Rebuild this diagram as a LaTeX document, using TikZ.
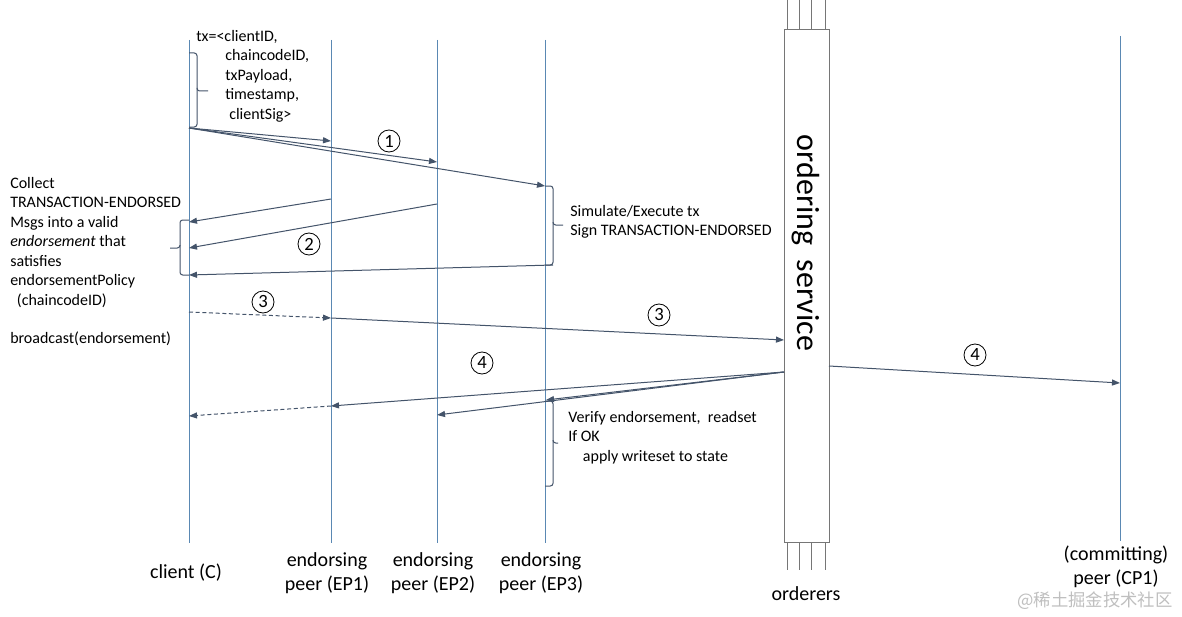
\documentclass[tikz,border=0pt]{standalone}
\usepackage{fontspec}
\setmainfont{Carlito}
\newfontfamily\cjkfont{Noto Sans CJK SC}
\usetikzlibrary{arrows.meta}
\definecolor{lifeblue}{HTML}{5A88B3}
\definecolor{arrowgray}{HTML}{44546A}
\definecolor{boxgray}{HTML}{767676}
\begin{document}
\begin{tikzpicture}[x=0.75pt,y=-0.75pt,
  life/.style={draw=lifeblue, line width=0.75pt},
  msg/.style={draw=arrowgray, line width=0.75pt, -{Triangle[length=6pt,width=4.5pt]}},
  msgdash/.style={msg, dash pattern=on 3pt off 2pt},
  brk/.style={draw=arrowgray, line width=0.75pt, rounded corners=2pt},
  num/.style={circle, draw=black, line width=0.6pt, minimum size=16.5pt, inner sep=0pt, font=\fontsize{14}{14}\selectfont},
  txt/.style={font=\fontsize{12}{14.6}\selectfont, inner sep=0pt, align=left, anchor=north west},
  lbl/.style={font=\fontsize{15}{18}\selectfont, inner sep=0pt, align=center},
  obox/.style={draw=boxgray, line width=0.75pt},
]
\useasboundingbox (0,0) rectangle (1182,617);
\fill[white] (0,0) rectangle (1182,617);

% lifelines
\coordinate (Ct) at (189,40); \coordinate (Cb) at (189,543);
\coordinate (E1t) at (331,40); \coordinate (E1b) at (331,543);
\coordinate (E2t) at (437,40); \coordinate (E2b) at (437,543);
\coordinate (E3t) at (545,40); \coordinate (E3b) at (545,543);
\coordinate (P1t) at (1120,36); \coordinate (P1b) at (1120,541);
\draw[life] (Ct) -- (Cb);
\draw[life] (E1t) -- (E1b);
\draw[life] (E2t) -- (E2b);
\draw[life] (E3t) -- (E3b);
\draw[life] (P1t) -- (P1b);

% ordering service box
\node[obox, minimum width=33.75pt, minimum height=384pt, inner sep=0pt] (ord) at (806.5,286) {};
\node[rotate=-90, font=\fontsize{24}{24}\selectfont, inner sep=0pt] (ordtxt) at (806,243) {ordering\ \ service};
\foreach \xx in {787,799,811,825} {
  \draw[obox] (\xx,0) -- (\xx,30);
  \draw[obox] (\xx,542) -- (\xx,570);
}

% bottom labels
\node[lbl] (lc) at (186,573) {client (C)};
\node[lbl] (l1) at (327,573) {endorsing\\peer (EP1)};
\node[lbl] (l2) at (433,573) {endorsing\\peer (EP2)};
\node[lbl] (l3) at (541,573) {endorsing\\peer (EP3)};
\node[lbl] (lo) at (806,594) {orderers};
\node[lbl] (lp) at (1116,567) {(committing)\\peer (CP1)};
\node[font=\cjkfont\fontsize{13}{13}\selectfont, text=black!25, inner sep=0pt] (wm) at (1095,601) {@稀土掘金技术社区};

% tx text and brace
\node[txt] (tx1) at (196,30) {tx=<clientID,};
\node[txt] (tx2) at (225,49.5) {chaincodeID,\\txPayload,\\timestamp,\\\hspace*{3pt}clientSig>};
\draw[brk] (189,53) -| (197,91) -- (208,91);
\draw[brk] (197,88) |- (189,127);

% step 1
\coordinate (s1) at (189,128);
\coordinate (a1) at (331,141);
\coordinate (a2) at (437,162);
\coordinate (a3) at (545,186);
\draw[msg] (s1) -- (a1);
\draw[msg] (s1) -- (a2);
\draw[msg] (s1) -- (a3);
\node[num] (n1) at (389,141) {1};

% EP3 brace + text
\draw[brk] (545,186) -| (553,225) -- (563,225);
\draw[brk] (553,222) |- (545,265);
\node[txt] (sim) at (570,205) {Simulate/Execute tx\\Sign TRANSACTION-ENDORSED};

% step 2
\coordinate (b1) at (331,199); \coordinate (c1) at (189,222);
\coordinate (b2) at (437,204); \coordinate (c2) at (189,248);
\coordinate (b3) at (553,265); \coordinate (c3) at (189,275);
\draw[msg] (b1) -- (c1);
\draw[msg] (b2) -- (c2);
\draw[msg] (b3) -- (c3);
\node[num] (n2) at (309,244) {2};

% client brace + text
\draw[brk] (189,220) -| (180,248) -- (170,248);
\draw[brk] (180,245) |- (189,275);
\node[txt] (coll) at (10,177) {Collect\\TRANSACTION-ENDORSED\\Msgs into a valid\\\textit{endorsement} that\\satisfies\\endorsementPolicy\\\hspace*{5pt}(chaincodeID)};
\node[txt] (bc) at (10,332) {broadcast(endorsement)};

% step 3
\coordinate (d0) at (189,312);
\coordinate (d1) at (331,318);
\coordinate (d2) at (784,340);
\draw[msgdash] (d0) -- (d1);
\draw[msg] (d1) -- (d2);
\node[num] (n3a) at (263,302) {3};
\node[num] (n3b) at (659,315) {3};

% step 4
\coordinate (o4) at (784,372);
\coordinate (e1) at (331,406);
\coordinate (e2) at (437,415);
\coordinate (e3) at (546,400);
\coordinate (e0) at (189,416);
\coordinate (o5) at (829,366);
\coordinate (p4) at (1120,383);
\draw[msg] (o4) -- (e1);
\draw[msg] (o4) -- (e2);
\draw[msg] (o4) -- (e3);
\draw[msgdash] (e1) -- (e0);
\draw[msg] (o5) -- (p4);
\node[num] (n4a) at (482,363) {4};
\node[num] (n4b) at (975,355) {4};

% verify brace + text
\draw[brk] (545,401) -| (553,443) -- (558,443);
\draw[brk] (553,440) |- (545,486);
\node[txt] (ver) at (568,411) {Verify endorsement,\ \ readset\\If OK\\\hspace*{11pt}apply writeset to state};
\end{tikzpicture}
\end{document}
